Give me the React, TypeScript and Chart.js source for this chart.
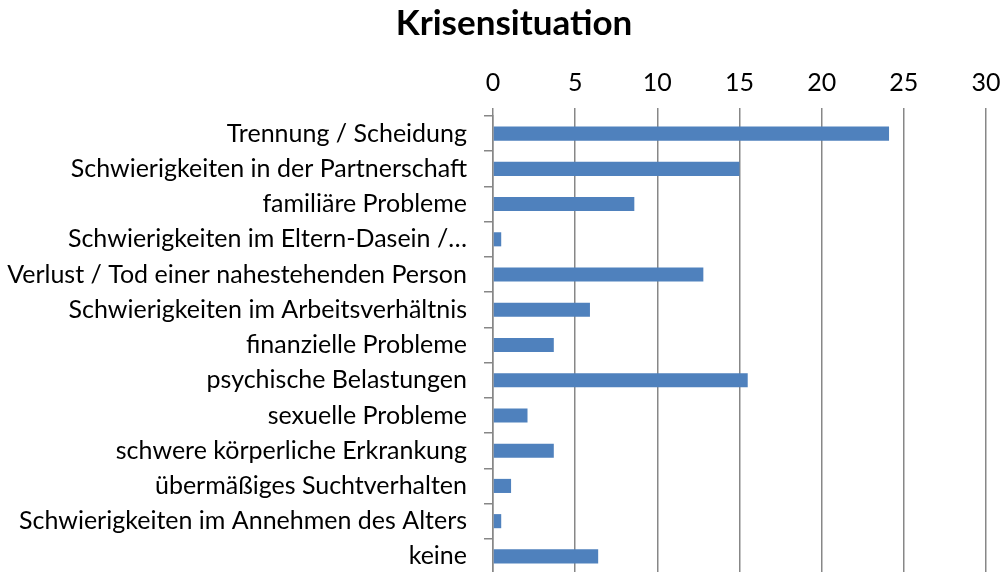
import React, { useEffect, useRef } from "react";
import { Chart, registerables } from "chart.js";

Chart.register(...registerables);

const titleText = "Krisensituation";

const categories = [
  "Trennung / Scheidung",
  "Schwierigkeiten in der Partnerschaft",
  "familiäre Probleme",
  "Schwierigkeiten im Eltern-Dasein /…",
  "Verlust / Tod einer nahestehenden Person",
  "Schwierigkeiten im Arbeitsverhältnis",
  "finanzielle Probleme",
  "psychische Belastungen",
  "sexuelle Probleme",
  "schwere körperliche Erkrankung",
  "übermäßiges Suchtverhalten",
  "Schwierigkeiten im Annehmen des Alters",
  "keine",
];

const values = [24.1, 15, 8.6, 0.5, 12.8, 5.9, 3.7, 15.5, 2.1, 3.7, 1.1, 0.5, 6.4];

const xMin = 0;
const xMax = 30;
const xStep = 5;

const FONT = "Lato, 'Open Sans', sans-serif";
const TITLE_SIZE = 35;
const TITLE_PAD = 3;

const titleShift = {
  id: "titleShift",
  afterLayout(chart: any) {
    if (chart.titleBlock) {
      chart.titleBlock.left = 42;
    }
  },
};

export default function App() {
  const ref = useRef<HTMLCanvasElement | null>(null);

  useEffect(() => {
    if (!ref.current) return;
    const chart = new Chart(ref.current, {
      type: "bar",
      data: {
        labels: categories,
        datasets: [
          {
            data: values,
            backgroundColor: "#4F81BD",
            borderWidth: 0,
            categoryPercentage: 1,
            barPercentage: 0.4,
          },
        ],
      },
      plugins: [titleShift],
      options: {
        indexAxis: "y",
        responsive: true,
        maintainAspectRatio: false,
        animation: false,
        devicePixelRatio: 1,
        layout: { padding: { left: 0, right: 22, top: 0, bottom: 6 } },
        plugins: {
          legend: { display: false },
          tooltip: { enabled: false },
          title: {
            display: true,
            text: titleText,
            color: "#000000",
            font: { family: FONT, size: TITLE_SIZE, weight: "bold" },
            padding: { top: TITLE_PAD, bottom: 0 },
          },
        },
        scales: {
          x: {
            position: "top",
            min: xMin,
            max: xMax,
            ticks: {
              stepSize: xStep,
              color: "#000000",
              font: { family: FONT, size: 25 },
              padding: 10,
            },
            grid: {
              color: "#878787",
              lineWidth: 1.5,
              tickLength: 8,
              drawTicks: true,
            },
            border: { display: false },
            afterFit: (scale: any) => {
              scale.height = 116 - TITLE_PAD - TITLE_SIZE * 1.2;
              scale.paddingLeft = 0;
              scale.paddingRight = 0;
            },
          },
          y: {
            ticks: {
              color: "#000000",
              font: { family: FONT, size: 25 },
              padding: 17,
              autoSkip: false,
            },
            grid: {
              drawOnChartArea: false,
              drawTicks: true,
              tickLength: 9,
              color: "#878787",
              lineWidth: 1.5,
            },
            border: { display: true, color: "#878787", width: 1.5 },
            afterFit: (scale: any) => {
              scale.width = 493;
              scale.paddingTop = 0;
              scale.paddingBottom = 0;
            },
          },
        },
      },
    });
    return () => chart.destroy();
  }, []);

  return (
    <div
      style={{
        position: "fixed",
        left: 0,
        top: 0,
        width: 1008,
        height: 572,
        overflow: "hidden",
        background: "#ffffff",
      }}
    >
      <div style={{ position: "relative", width: 1008, height: 580 }}>
        <canvas ref={ref} />
      </div>
    </div>
  );
}
